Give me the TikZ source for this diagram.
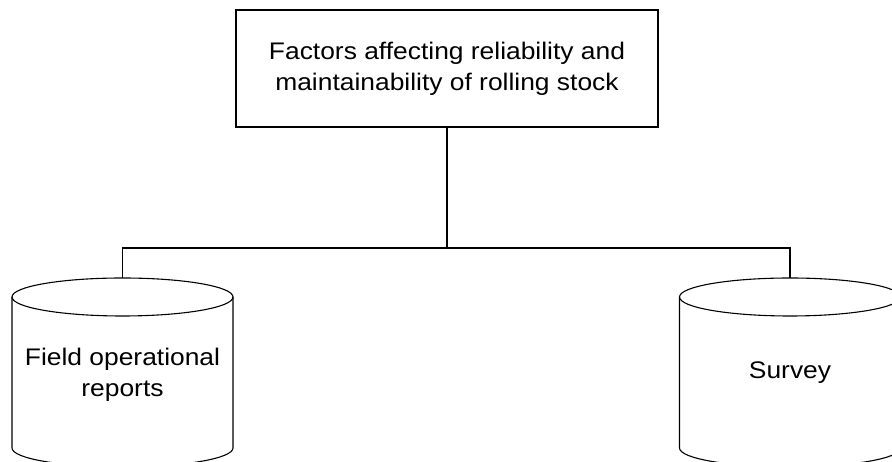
\documentclass[tikz,border=0pt]{standalone}
\usepackage{fontspec}
\setmainfont{Liberation Sans}[FakeStretch=1.1]
\usepackage{tikz}
\usetikzlibrary{positioning}
\definecolor{lineBlack}{HTML}{000000}
\tikzset{
  topBox/.style={rectangle, draw=lineBlack, line width=1.1pt, align=center,
                 minimum width=422pt, minimum height=117pt, inner sep=0pt},
  drum/.style={draw=lineBlack, line width=1.1pt, x radius=110.5, y radius=19},
  cylText/.style={align=center, inner sep=0pt},
  link/.style={draw=lineBlack, line width=1.1pt},
}

\begin{document}
\begin{tikzpicture}[x=1pt, y=1pt, font=\fontsize{24}{31}\selectfont]
    \useasboundingbox (0,0) rectangle (892,462);
    \node[topBox] (fac) at (447,393.5)
      {Factors affecting reliability and\\maintainability of rolling stock};
    % data stores
    \foreach \cx in {122.5, 790} {
      \draw[drum] (\cx,165) ellipse [];
      \draw[drum] (\cx-110.5,165) -- (\cx-110.5,14)
        arc[start angle=180, end angle=360] -- (\cx+110.5,165);
    }
    \coordinate (fldTop) at (122.5,184);
    \coordinate (srvTop) at (790,184);
    \node[cylText] (fld) at (122.5,87) {Field operational\\reports};
    \node[cylText] (srv) at (790,89) {Survey};
    \coordinate (bus) at (447,214);
    \draw[link] (fac.south) -- (bus);
    \draw[link] (fldTop) |- (bus) -| (srvTop);
  \end{tikzpicture}
\end{document}
